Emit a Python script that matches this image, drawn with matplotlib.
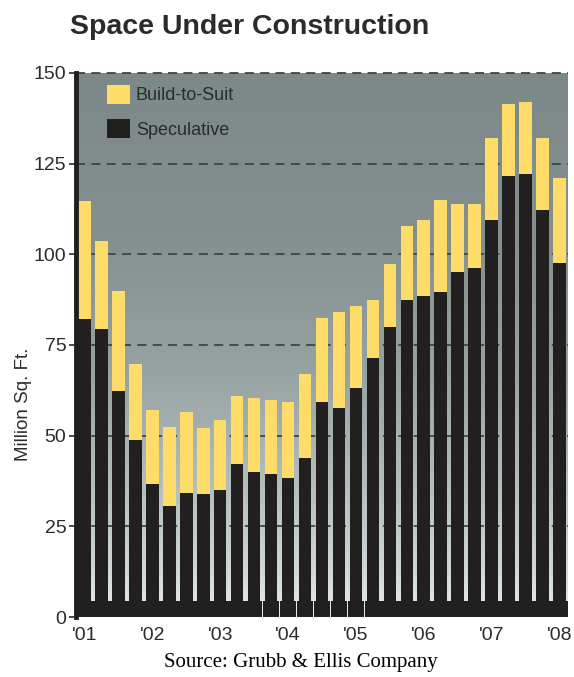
import numpy as np
import matplotlib
matplotlib.use("Agg")
import matplotlib.pyplot as plt
from matplotlib.colors import LinearSegmentedColormap
from matplotlib.patches import Patch


# Quarterly space under construction, 2001 Q1 - 2008 Q1 (million sq. ft.)
speculative = [82.1, 79.3, 62.4, 48.7, 36.6, 30.5, 34.3, 33.8, 34.9, 42.1,
               39.9, 39.3, 38.2, 43.8, 59.2, 57.5, 63.1, 71.3, 80.1, 87.4,
               88.4, 89.6, 95.2, 96.2, 109.5, 121.6, 122.2, 112.3, 97.5]
build_to_suit = [32.7, 24.4, 27.5, 21.1, 20.5, 22.0, 22.2, 18.3, 19.5, 18.8,
                 20.4, 20.6, 21.0, 23.2, 23.2, 26.7, 22.7, 16.1, 17.3, 20.4,
                 21.1, 25.5, 18.6, 17.6, 22.6, 19.9, 19.8, 19.8, 23.6]
year_labels = ["'01", "'02", "'03", "'04", "'05", "'06", "'07", "'08"]
y_ticks = [0, 25, 50, 75, 100, 125, 150]

YELLOW = "#fedc6a"
BLACK = "#221f1f"
TEXT = "#2b2b2b"

plt.rcParams['font.family'] = ['Liberation Sans', 'DejaVu Sans']

fig = plt.figure(figsize=(5.74, 6.77), dpi=100)
ax = fig.add_axes([0.1324, 0.0886, 0.8571, 0.8036])

x = np.arange(len(speculative))

# grey-to-light vertical gradient behind the bars
bg = LinearSegmentedColormap.from_list(
    "bg", [(0.0, "#e8eded"), (0.08, "#d0d8d8"), (0.25, "#b2bcbc"),
           (0.45, "#97a2a2"), (0.7, "#858f8f"), (1.0, "#7d8888")])
grad = np.linspace(0, 1, 256).reshape(-1, 1)
ax.imshow(grad, cmap=bg, origin="lower", aspect="auto",
          extent=[0, 1, 0, 1], transform=ax.transAxes, zorder=0)

# dashed gridlines
for yv in y_ticks[1:]:
    ax.axhline(yv, color="#3d4646", lw=1.3, ls=(0, (5, 3.5)), zorder=1,
               clip_on=False)

# stacked bars
ax.bar(x, speculative, width=0.74, color=BLACK, zorder=2)
ax.bar(x, build_to_suit, bottom=speculative, width=0.74, color=YELLOW,
       zorder=2)
# widened feet along the baseline
ax.bar(x, [4.5] * len(x), width=0.985, color=BLACK, zorder=2)

ax.set_xlim(-0.5, len(x) - 0.5)
ax.set_ylim(0, 150)

ax.set_yticks(y_ticks)
ax.set_yticklabels([str(v) for v in y_ticks], fontsize=14, color=TEXT)
ax.tick_params(axis="y", length=5, width=1.2, color=TEXT, pad=2)

ax.set_xticks(x[::4])
ax.set_xticklabels(year_labels, fontsize=14, color=TEXT)
ax.tick_params(axis="x", length=0, pad=7)

for side in ["top", "right", "bottom"]:
    ax.spines[side].set_visible(False)
ax.spines["left"].set_linewidth(3.5)
ax.spines["left"].set_color(BLACK)
ax.spines["left"].set_zorder(3)

ax.set_ylabel("Million Sq. Ft.", fontsize=13.5, color=TEXT)
ax.yaxis.set_label_coords(-0.089, 0.391)

handles = [Patch(facecolor=YELLOW, edgecolor="none", label="Build-to-Suit"),
           Patch(facecolor=BLACK, edgecolor="none", label="Speculative")]
leg = ax.legend(handles=handles, loc="upper left", frameon=False,
                fontsize=13, handlelength=1.3, handleheight=1.25,
                handletextpad=0.3, labelspacing=0.8,
                bbox_to_anchor=(0.03, 1.008))
for t in leg.get_texts():
    t.set_color(TEXT)

fig.text(0.435, 0.96, "Space Under Construction", ha="center", va="center",
         fontsize=20.5, fontweight="bold", color=TEXT)
fig.text(0.525, 0.021, "Source: Grubb & Ellis Company", ha="center",
         va="center", fontsize=15, family="Liberation Serif", color="black")

fig.savefig("out.png", dpi=100)
